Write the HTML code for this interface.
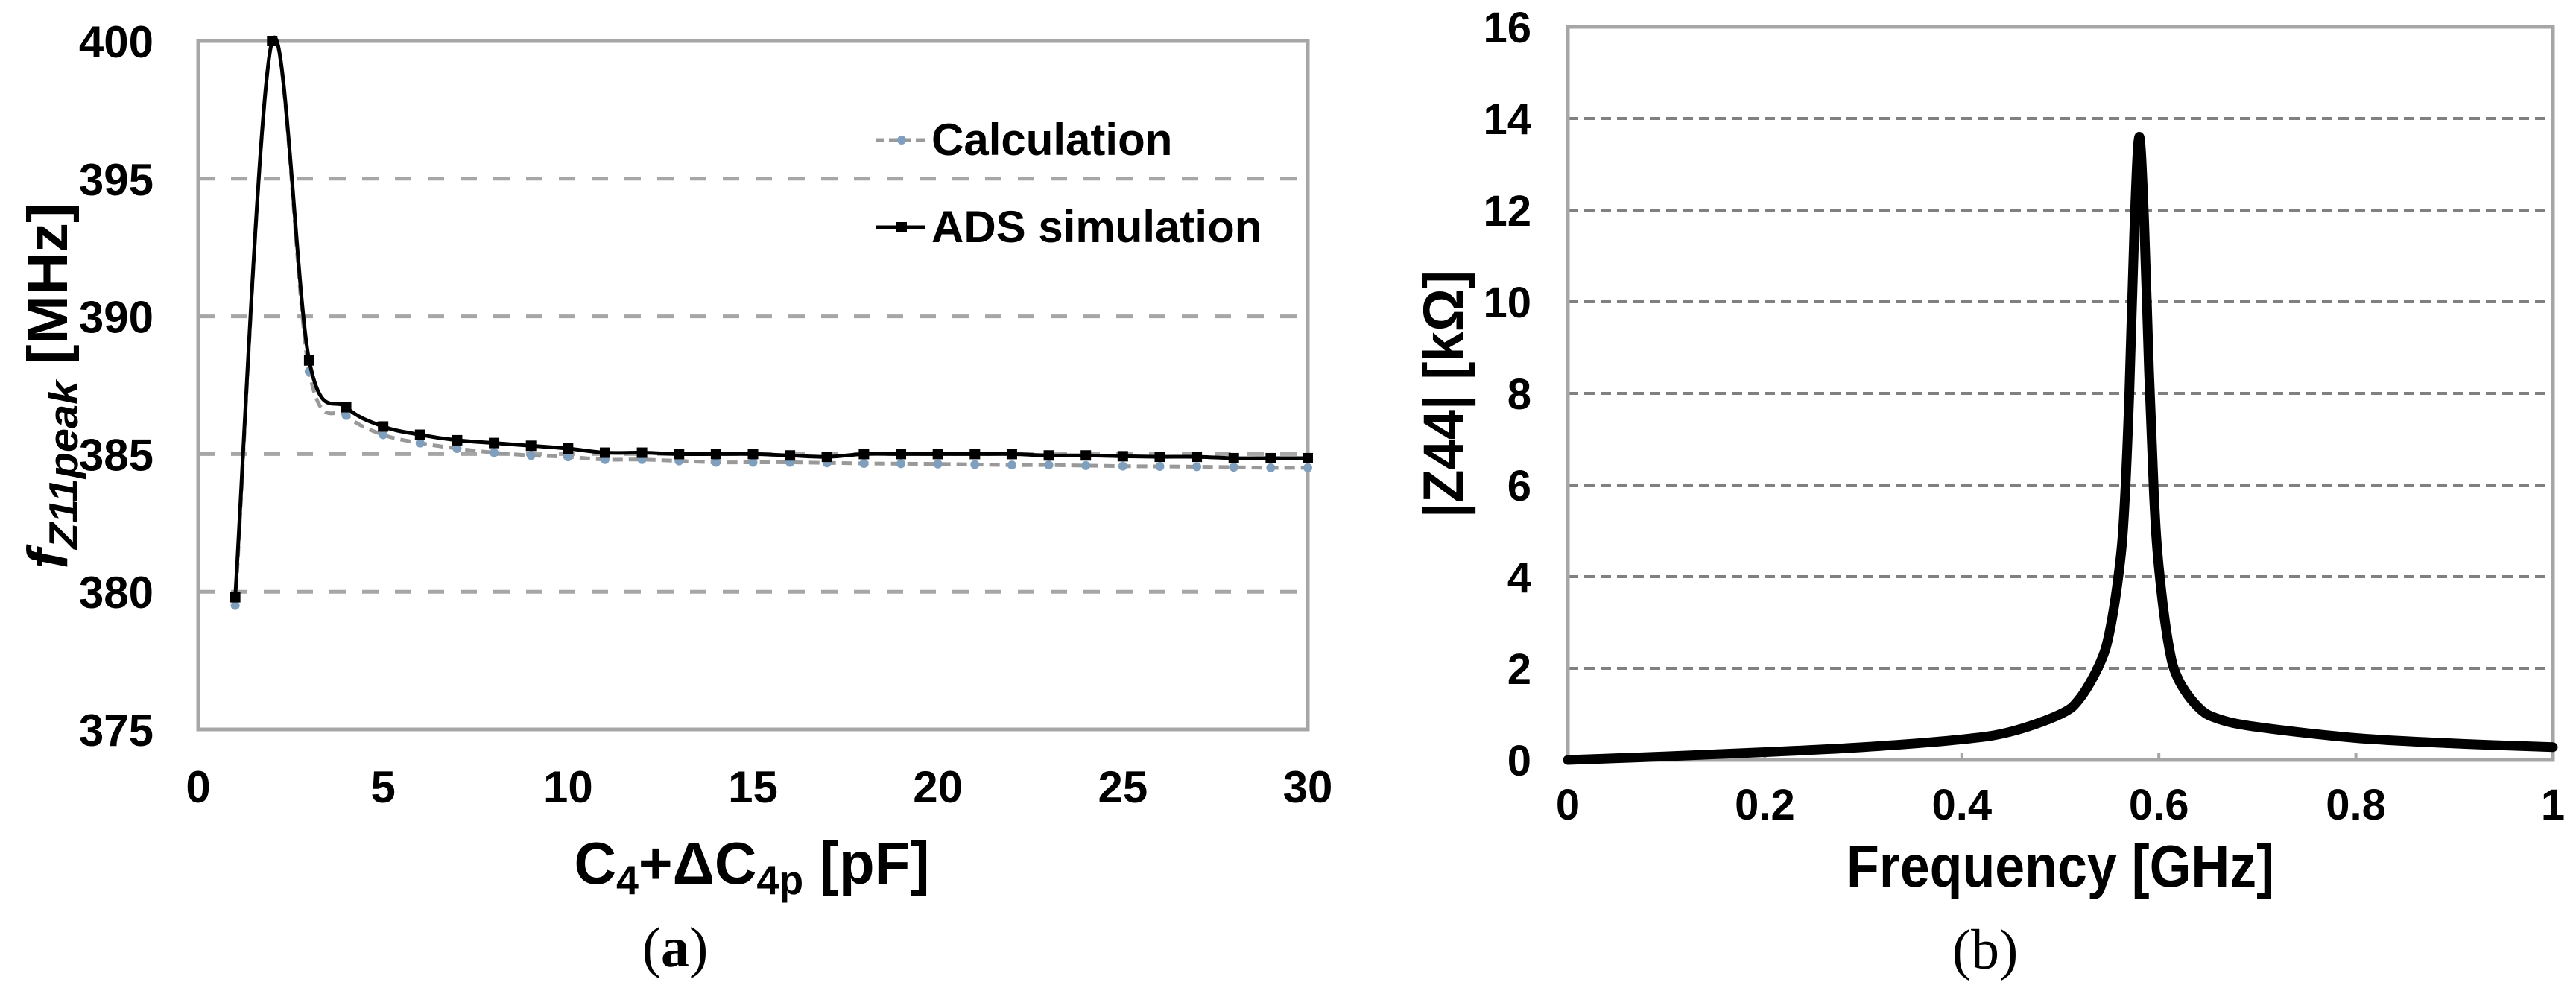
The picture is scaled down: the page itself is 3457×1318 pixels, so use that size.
<!DOCTYPE html>
<html><head><meta charset="utf-8"><style>
html,body{margin:0;padding:0;background:#fff}
svg{display:block}
.t{font-family:"Liberation Sans Narrow","Liberation Sans",sans-serif;font-weight:bold;fill:#000}
.s{font-family:"Liberation Serif",serif;fill:#000}
</style></head><body>
<svg id="c" width="3457" height="1318" viewBox="0 0 3457 1318" xmlns="http://www.w3.org/2000/svg">
<g id="a"></g>
<g id="b"></g>
<text class="s" x="906" y="1297" font-size="76" text-anchor="middle">(<tspan font-weight="bold">a</tspan>)</text>
<text class="s" x="2664" y="1300" font-size="76" text-anchor="middle">(b)</text>
</svg>
<script>
// Chart (a) data
const aXTicks = [0,5,10,15,20,25,30];
const aYTicks = [375,380,385,390,395,400];
const aX = [1,2,3,4,5,6,7,8,9,10,11,12,13,14,15,16,17,18,19,20,21,22,23,24,25,26,27,28,29,30];
const adsValues = [379.8,400,388.4,386.7,386.0,385.7,385.5,385.4,385.3,385.2,385.05,385.05,385.0,385.0,385.0,384.95,384.9,385.0,385.0,385.0,385.0,385.0,384.95,384.95,384.92,384.9,384.9,384.85,384.85,384.85];
const calcValues = [379.5,400,388.0,386.4,385.7,385.4,385.2,385.05,384.95,384.9,384.8,384.8,384.75,384.7,384.7,384.7,384.68,384.66,384.65,384.64,384.62,384.6,384.6,384.58,384.56,384.55,384.54,384.52,384.5,384.5];
// Chart (b) data
const bXTicks = [0,0.2,0.4,0.6,0.8,1];
const bXTickLabels = ["0","0.2","0.4","0.6","0.8","1"];
const bYTicks = [0,2,4,6,8,10,12,14,16];
const freq = [0,0.1,0.2,0.3,0.4,0.45,0.5,0.52,0.54,0.55,0.56,0.565,0.57,0.575,0.58,0.585,0.59,0.595,0.6,0.61,0.62,0.64,0.66,0.7,0.8,0.9,1.0];
const z44 = [0,0.08,0.17,0.28,0.45,0.62,1.0,1.35,2.1,2.8,4.2,5.5,8.0,11.5,13.6,11.8,8.5,5.8,4.2,2.5,1.75,1.15,0.9,0.72,0.48,0.36,0.28];

const NS="http://www.w3.org/2000/svg";
function mk(parent,tag,attrs,text){const e=document.createElementNS(NS,tag);for(const k in attrs)e.setAttribute(k,attrs[k]);if(text!==undefined)e.textContent=text;parent.appendChild(e);return e;}
function smooth(pts){let d="M"+pts[0][0]+","+pts[0][1];for(let i=0;i<pts.length-1;i++){const p0=pts[Math.max(0,i-1)],p1=pts[i],p2=pts[i+1],p3=pts[Math.min(pts.length-1,i+2)];const t=6;d+=" C"+(p1[0]+(p2[0]-p0[0])/t)+","+(p1[1]+(p2[1]-p0[1])/t)+" "+(p2[0]-(p3[0]-p1[0])/t)+","+(p2[1]-(p3[1]-p1[1])/t)+" "+p2[0]+","+p2[1];}return d;}

// ---- Chart A ----
const A=document.getElementById('a');
const aL=266,aR=1755,aT=55,aB=979;
const ax=v=>aL+(v-0)/(30-0)*(aR-aL);
const ay=v=>aB-(v-375)/(400-375)*(aB-aT);
aYTicks.forEach(v=>{
  if(v>375&&v<400){const g=mk(A,'line',{x1:aL,x2:aR,y1:ay(v),y2:ay(v),stroke:'#a6a6a6','stroke-width':5,'stroke-dasharray':'22 22'});
  
  }
  const t=mk(A,'text',{x:206,y:ay(v)+22,'font-size':60,'text-anchor':'end',class:'t'},String(v));
  
  
});
const af=mk(A,'rect',{x:aL,y:aT,width:aR-aL,height:aB-aT,fill:'none',stroke:'#a6a6a6','stroke-width':5});


aXTicks.forEach(v=>{
  const t=mk(A,'text',{x:ax(v),y:1077,'font-size':60,'text-anchor':'middle',class:'t'},String(v));
  
  
});
const cp=aX.map((x,i)=>[ax(x),ay(calcValues[i])]);
const cl=mk(A,'path',{d:smooth(cp),fill:'none',stroke:'#999','stroke-width':5,'stroke-dasharray':'14 8'});


cp.forEach(p=>{const c=mk(A,'circle',{cx:p[0],cy:p[1],r:6,fill:'#7f9fbf'});
  
  });
const sp=aX.map((x,i)=>[ax(x),ay(adsValues[i])]);
const sl=mk(A,'path',{d:smooth(sp),fill:'none',stroke:'#000','stroke-width':5});


sp.forEach(p=>{const r=mk(A,'rect',{x:p[0]-7,y:p[1]-7,width:14,height:14,fill:'#000'});
  
  });
// legend
const lg=mk(A,'g',{});


mk(lg,'line',{x1:1175,x2:1242,y1:188,y2:188,stroke:'#999','stroke-width':5,'stroke-dasharray':'12 6'});
mk(lg,'circle',{cx:1210,cy:188,r:6,fill:'#7f9fbf'});
const l1=mk(lg,'text',{x:1250,y:208,'font-size':60,class:'t'},'Calculation');


mk(lg,'line',{x1:1175,x2:1242,y1:305,y2:305,stroke:'#000','stroke-width':5});
mk(lg,'rect',{x:1203,y:298,width:14,height:14,fill:'#000'});
const l2=mk(lg,'text',{x:1250,y:325,'font-size':60,class:'t'},'ADS simulation');


// titles
const axt=mk(A,'text',{x:1009,y:1186,'font-size':80,'text-anchor':'middle',class:'t',textLength:477,lengthAdjust:'spacingAndGlyphs'});
axt.innerHTML='C<tspan font-size="55" dy="14">4</tspan><tspan dy="-14">+ΔC</tspan><tspan font-size="55" dy="14">4p</tspan><tspan dy="-14"> [pF]</tspan>';


const ayt=mk(A,'text',{x:0,y:0,'font-size':76,'text-anchor':'middle',class:'t',transform:'translate(90,518) rotate(-90)',textLength:491,lengthAdjust:'spacingAndGlyphs'});
ayt.innerHTML='<tspan font-style="italic">f</tspan><tspan font-style="italic" font-size="55" dy="14">Z11peak</tspan><tspan dy="-14"> [MHz]</tspan>';



// ---- Chart B ----
const B=document.getElementById('b');
const bL=2104,bR=3426,bT=36,bB=1020;
const bx=v=>bL+v*(bR-bL);
const by=v=>bB-v/16*(bB-bT);
bYTicks.forEach(v=>{
  if(v>0&&v<16){const g=mk(B,'line',{x1:bL,x2:bR,y1:by(v),y2:by(v),stroke:'#808080','stroke-width':4,'stroke-dasharray':'14 8'});
  
  }
  const t=mk(B,'text',{x:2055,y:by(v)+21,'font-size':58,'text-anchor':'end',class:'t'},String(v));
  
  
});
const bf=mk(B,'rect',{x:bL,y:bT,width:bR-bL,height:bB-bT,fill:'none',stroke:'#a6a6a6','stroke-width':5});


bXTicks.forEach((v,i)=>{
  mk(B,'line',{x1:bx(v),x2:bx(v),y1:bB,y2:bB-10,stroke:'#a6a6a6','stroke-width':4});
  const t=mk(B,'text',{x:bx(v),y:1100,'font-size':58,'text-anchor':'middle',class:'t'},bXTickLabels[i]);
  
  
});
const zp=freq.map((f,i)=>[bx(f),by(z44[i])]);
const zl=mk(B,'path',{d:smooth(zp),fill:'none',stroke:'#000','stroke-width':13,'stroke-linejoin':'round','stroke-linecap':'round'});


const bxt=mk(B,'text',{x:2765,y:1190,'font-size':80,'text-anchor':'middle',class:'t',textLength:574,lengthAdjust:'spacingAndGlyphs'},'Frequency [GHz]');


const byt=mk(B,'text',{x:0,y:0,'font-size':76,'text-anchor':'middle',class:'t',transform:'translate(1963,529) rotate(-90)',textLength:332,lengthAdjust:'spacingAndGlyphs'},'|Z44| [kΩ]');


</script>
</body></html>
